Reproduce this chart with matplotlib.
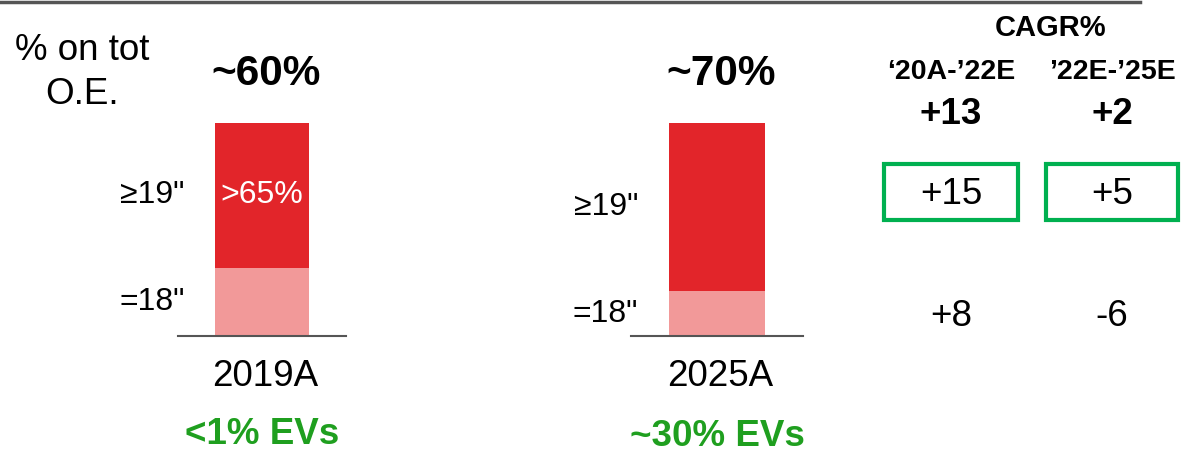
import matplotlib.pyplot as plt
from matplotlib.patches import Rectangle
from matplotlib.lines import Line2D
import matplotlib.transforms as mtransforms

plt.rcParams['font.family'] = ['Liberation Sans', 'DejaVu Sans']

# data
years = ['2019A', '2025A']
share_18 = [32, 21]        # =18" share of bar, %
share_19 = [68, 79]        # >=19" share of bar, %
top_labels = ['~60%', '~70%']
ev_labels = ['<1% EVs', '~30% EVs']
inner_labels = ['>65%', '']
cagr_periods = ['\u201820A-\u201922E', '\u201922E-\u201925E']
cagr_total = ['+13', '+2']
cagr_19 = ['+15', '+5']
cagr_18 = ['+8', '-6']

RED = '#E2252A'
PINK = '#F29999'
GREEN_TXT = '#1F9F1F'
GREEN_BOX = '#00B050'

W, H = 1181, 454
fig = plt.figure(figsize=(W / 100, H / 100), dpi=100)


def fx(x):
    return x / W


def fy(y):
    return 1 - y / H


# top rule
fig.add_artist(Line2D([0, fx(1140)], [fy(2), fy(2)], color='#555555', lw=2.5,
                      transform=fig.transFigure))

fig.text(fx(82), fy(50), '% on tot', ha='center', va='center', fontsize=26.5)
fig.text(fx(82), fy(95), 'O.E.', ha='center', va='center', fontsize=26.5)

# bar panels: (left px, right px) of baseline
panels = [(178, 346), (631, 803)]
bar_w = [0.554, 0.558]
top_px, base_px = 123, 336

for i, (l, r) in enumerate(panels):
    ax = fig.add_axes([fx(l), fy(base_px), fx(r - l), (base_px - top_px) / H])
    ax.bar(0, share_18[i], width=bar_w[i], color=PINK)
    ax.bar(0, share_19[i], width=bar_w[i], bottom=share_18[i], color=RED)
    ax.set_xlim(-0.5, 0.5)
    ax.set_ylim(0, 100)
    for s in ['top', 'left', 'right']:
        ax.spines[s].set_visible(False)
    ax.spines['bottom'].set_color('#555555')
    ax.spines['bottom'].set_linewidth(1.5)
    ax.set_xticks([])
    ax.set_yticks([])
    ax.patch.set_alpha(0)

    trans = mtransforms.blended_transform_factory(ax.transAxes, ax.transData)
    ax.text(0.04, share_18[i] + share_19[i] / 2, '\u226519"', transform=trans,
            ha='right', va='center', fontsize=23)
    ax.text(0.04, share_18[i] / 2, '=18"', transform=trans,
            ha='right', va='center', fontsize=23)
    if inner_labels[i]:
        ax.text(0, share_18[i] + share_19[i] / 2, inner_labels[i], color='white',
                ha='center', va='center', fontsize=23)

    cx = (l + r) / 2 + 3
    fig.text(fx(cx + 1), fy(74), top_labels[i], ha='center', va='center',
             fontsize=30.5, fontweight='bold')
    fig.text(fx(cx), fy(376), years[i], ha='center', va='center', fontsize=26.5)
    fig.text(fx(cx - 3), fy(435 + 1 * i), ev_labels[i], ha='center', va='center',
             fontsize=26.5, fontweight='bold', color=GREEN_TXT)

# CAGR columns
fig.text(fx(1051), fy(28), 'CAGR%', ha='center', va='center', fontsize=21,
         fontweight='bold')
col_x = [951, 1112]
box_x = [(884, 1018), (1046, 1178)]
for j in range(2):
    fig.text(fx(col_x[j]), fy(72), cagr_periods[j], ha='center', va='center',
             fontsize=20.5, fontweight='bold')
    fig.text(fx(col_x[j]), fy(114), cagr_total[j], ha='center', va='center',
             fontsize=26.5, fontweight='bold')
    bl, br = box_x[j]
    fig.add_artist(Rectangle((fx(bl), fy(220)), fx(br - bl), (220 - 164) / H,
                             transform=fig.transFigure, fill=False,
                             edgecolor=GREEN_BOX, lw=3))
    fig.text(fx(col_x[j]), fy(195), cagr_19[j], ha='center', va='center',
             fontsize=26.5)
    fig.text(fx(col_x[j]), fy(316), cagr_18[j], ha='center', va='center',
             fontsize=26.5)

fig.savefig('out.png', dpi=100)
